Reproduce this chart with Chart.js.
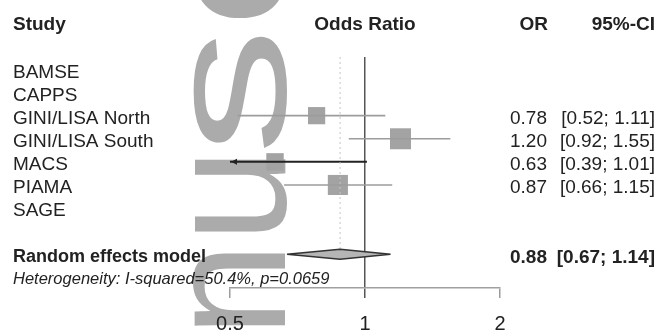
<!DOCTYPE html>
<html>
<head>
<meta charset="utf-8">
<title>Forest plot</title>
<script src="https://cdn.jsdelivr.net/npm/chart.js@4.4.0/dist/chart.umd.min.js"></script>
<style>
    html, body { margin: 0; padding: 0; background: #fff; }
    #wrap { width: 658px; height: 335px; position: relative; }
</style>
</head>
<body>
<div id="wrap"><canvas id="forest"></canvas></div>
<script>
// Study data
const STUDIES = ['BAMSE', 'CAPPS', 'GINI/LISA North', 'GINI/LISA South', 'MACS', 'PIAMA', 'SAGE'];
const OR_VALUES = [null, null, 0.78, 1.20, 0.63, 0.87, null];
const CI_LOWER = [null, null, 0.52, 0.92, 0.39, 0.66, null];
const CI_UPPER = [null, null, 1.11, 1.55, 1.01, 1.15, null];
const WEIGHTS = [null, null, 20.5, 30.5, 21.0, 28.0, null]; // % weight, box area ~ weight

// Pooled estimate
const POOLED_LABEL = 'Random effects model';
const POOLED_OR = 0.88;
const POOLED_LOWER = 0.67;
const POOLED_UPPER = 1.14;
const HETEROGENEITY = 'Heterogeneity: I-squared=50.4%, p=0.0659';

const X_TICKS = [0.5, 1, 2];

// row layout: studies 0..6, blank, pooled 8, heterogeneity 9
const POOLED_ROW = STUDIES.length + 1;
const HET_ROW = POOLED_ROW + 1;
const Y_MIN = -0.54;
const Y_MAX = 9.46;

const FONT = "'Liberation Sans', Arial, Helvetica, sans-serif";
const TEXT = '#222';

const fmt = v => v.toFixed(2);

// CI line datasets
const ciSets = [];
STUDIES.forEach((s, i) => {
    if (OR_VALUES[i] === null) return;
    const dark = CI_LOWER[i] < X_TICKS[0];
    ciSets.push({
        label: s + ' CI',
        data: [{ x: CI_LOWER[i], y: i }, { x: CI_UPPER[i], y: i }],
        showLine: true,
        borderColor: dark ? '#222' : '#9c9c9c',
        borderWidth: dark ? 2 : 1.6,
        pointRadius: 0
    });
});

const boxData = [];
const boxRadius = [];
STUDIES.forEach((s, i) => {
    if (OR_VALUES[i] === null) return;
    boxData.push({ x: OR_VALUES[i], y: i });
    boxRadius.push(Math.sqrt(WEIGHTS[i]) * 3.8 / Math.SQRT2);
});

// "manuscript" watermark, drawn beneath everything
const watermark = {
    id: 'watermark',
    beforeDraw(chart) {
        const ctx = chart.ctx;
        ctx.save();
        ctx.translate(285, 337);
        ctx.rotate(-Math.PI / 2);
        ctx.fillStyle = '#ababab';
        ctx.font = '170px ' + FONT;
        ctx.textBaseline = 'alphabetic';
        ctx.fillText('nu', 0, 0);
        // the last letters are stretched along the text in the scan
        ctx.save();
        ctx.translate(182, 0);
        ctx.scale(1.5, 1);
        ctx.fillText('s', 0, 0);
        ctx.restore();
        ctx.translate(182 + 85 * 1.5, 0);
        ctx.scale(1.3, 1);
        ctx.fillText('c', 0, 0);
        ctx.restore();
    }
};

const forestText = {
    id: 'forestText',
    afterDatasetsDraw(chart) {
        const ctx = chart.ctx;
        const xs = chart.scales.x;
        const ys = chart.scales.y;
        const area = chart.chartArea;

        // diamond for pooled estimate
        const yp = ys.getPixelForValue(POOLED_ROW);
        const h = 5;
        ctx.save();
        ctx.beginPath();
        ctx.moveTo(xs.getPixelForValue(POOLED_LOWER), yp);
        ctx.lineTo(xs.getPixelForValue(POOLED_OR), yp - h);
        ctx.lineTo(xs.getPixelForValue(POOLED_UPPER), yp);
        ctx.lineTo(xs.getPixelForValue(POOLED_OR), yp + h);
        ctx.closePath();
        ctx.fillStyle = '#b5b5b5';
        ctx.fill();
        ctx.strokeStyle = '#333';
        ctx.lineWidth = 1.5;
        ctx.stroke();

        // arrows where the CI runs past the axis
        STUDIES.forEach((s, i) => {
            if (OR_VALUES[i] === null || CI_LOWER[i] >= X_TICKS[0]) return;
            const y = ys.getPixelForValue(i);
            const x = area.left + 1;
            ctx.beginPath();
            ctx.moveTo(x, y);
            ctx.lineTo(x + 6, y - 3);
            ctx.lineTo(x + 6, y + 3);
            ctx.closePath();
            ctx.fillStyle = '#222';
            ctx.fill();
        });
        ctx.restore();
    },
    afterDraw(chart) {
        const ctx = chart.ctx;
        const ys = chart.scales.y;
        const xs = chart.scales.x;
        const rowY = r => ys.getPixelForValue(r) + 3;
        ctx.save();
        ctx.fillStyle = TEXT;
        ctx.textBaseline = 'middle';

        // headers
        const hy = rowY(-2) - 2;
        ctx.font = 'bold 19px ' + FONT;
        ctx.textAlign = 'left';
        ctx.fillText('Study', 13, hy);
        ctx.textAlign = 'center';
        ctx.fillText('Odds Ratio', (xs.left + xs.right) / 2, hy);
        ctx.textAlign = 'right';
        ctx.fillText('OR', 548, hy);
        ctx.fillText('95%-CI', 655, hy);

        // study rows
        ctx.font = '19px ' + FONT;
        STUDIES.forEach((s, i) => {
            ctx.textAlign = 'left';
            ctx.fillText(s, 13, rowY(i));
            if (OR_VALUES[i] === null) return;
            ctx.textAlign = 'right';
            ctx.fillText(fmt(OR_VALUES[i]), 547, rowY(i));
            ctx.fillText('[' + fmt(CI_LOWER[i]) + '; ' + fmt(CI_UPPER[i]) + ']', 655, rowY(i));
        });

        // pooled row
        ctx.font = 'bold 18px ' + FONT;
        ctx.textAlign = 'left';
        ctx.fillText(POOLED_LABEL, 13, rowY(POOLED_ROW));
        ctx.font = 'bold 19px ' + FONT;
        ctx.textAlign = 'right';
        ctx.fillText(fmt(POOLED_OR), 547, rowY(POOLED_ROW));
        ctx.fillText('[' + fmt(POOLED_LOWER) + '; ' + fmt(POOLED_UPPER) + ']', 655, rowY(POOLED_ROW));

        ctx.font = 'italic 16.5px ' + FONT;
        ctx.textAlign = 'left';
        ctx.fillText(HETEROGENEITY, 13, rowY(HET_ROW) - 1);
        ctx.restore();
    }
};

new Chart(document.getElementById('forest'), {
    type: 'scatter',
    data: {
        datasets: [
            {
                label: 'pooled',
                data: [{ x: POOLED_OR, y: Y_MIN }, { x: POOLED_OR, y: POOLED_ROW }],
                showLine: true,
                borderColor: '#c4c4c4',
                borderWidth: 1,
                borderDash: [2, 3],
                pointRadius: 0
            },
            ...ciSets,
            {
                label: 'studies',
                data: boxData,
                pointStyle: 'rect',
                pointRadius: boxRadius,
                backgroundColor: '#a3a3a3',
                borderWidth: 0
            }
        ]
    },
    options: {
        responsive: true,
        maintainAspectRatio: false,
        animation: false,
        devicePixelRatio: 1,
        layout: { padding: { left: 230, right: 158, top: 57, bottom: -15 } },
        plugins: {
            legend: { display: false },
            tooltip: { enabled: false }
        },
        scales: {
            x: {
                type: 'logarithmic',
                min: X_TICKS[0],
                max: X_TICKS[X_TICKS.length - 1],
                afterBuildTicks: axis => { axis.ticks = X_TICKS.map(v => ({ value: v })); },
                ticks: {
                    callback: v => String(v),
                    font: { family: FONT, size: 20 },
                    color: TEXT,
                    padding: 14,
                    autoSkip: false,
                    maxRotation: 0
                },
                grid: {
                    color: c => (c.tick && c.tick.value === 1) ? '#555' : 'rgba(0,0,0,0)',
                    lineWidth: 1.5,
                    tickColor: c => (c.tick && c.tick.value === 1) ? '#555' : '#9c9c9c',
                    tickLength: 10
                },
                border: { color: '#a0a0a0', width: 1.5 }
            },
            y: {
                type: 'linear',
                min: Y_MIN,
                max: Y_MAX,
                reverse: true,
                display: false
            }
        }
    },
    plugins: [watermark, forestText]
});
</script>
</body>
</html>
